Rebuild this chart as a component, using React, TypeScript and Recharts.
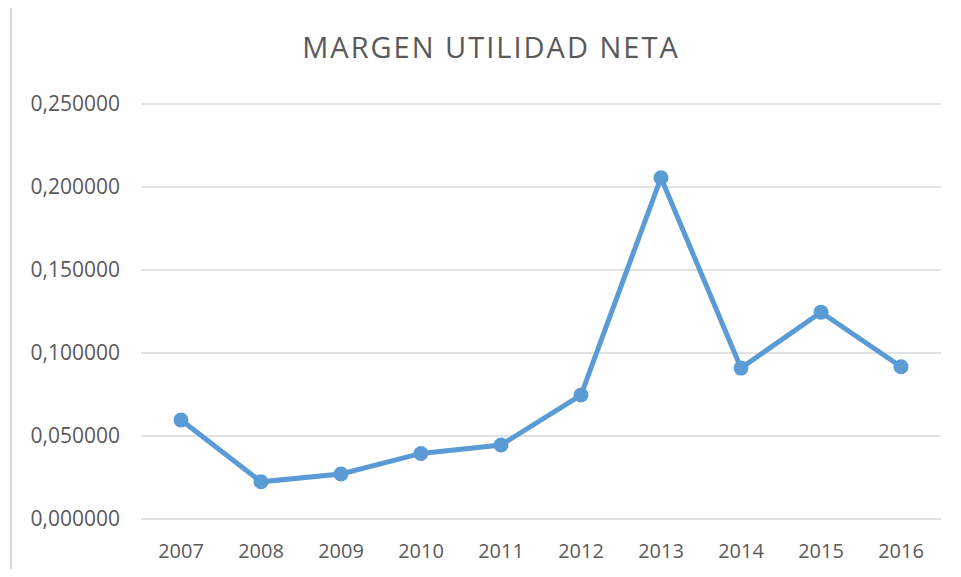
import React from "react";
import { LineChart, Line, XAxis, YAxis, CartesianGrid } from "recharts";

const years = ["2007", "2008", "2009", "2010", "2011", "2012", "2013", "2014", "2015", "2016"];
const margenValues = [0.0596, 0.0224, 0.0271, 0.0395, 0.0446, 0.0747, 0.2056, 0.0909, 0.1246, 0.0917];
const yTicks = [0, 0.05, 0.1, 0.15, 0.2, 0.25];
const title = "MARGEN UTILIDAD NETA";

const data = years.map((year, i) => ({ year, margen: margenValues[i] }));

const fmt = (v: number) => v.toFixed(6).replace(".", ",");

const FONT = "'Open Sans', sans-serif";

export default function App() {
  return (
    <div style={{ margin: -8, width: 961, height: 577, position: "relative", overflow: "hidden", background: "#fff" }}>
      <div
        style={{
          position: "absolute",
          left: 10,
          top: 6,
          width: 1200,
          height: 1200,
          borderLeft: "2px solid #d9d9d9",
          borderTop: "1px solid #d9d9d9",
        }}
      />
      <div
        style={{
          position: "absolute",
          left: 0,
          width: 982,
          top: 29,
          textAlign: "center",
          fontFamily: FONT,
          fontSize: 29,
          fontWeight: 400,
          color: "#595959",
          lineHeight: "36px",
          letterSpacing: 2,
        }}
      >
        {title}
      </div>
      <div style={{ position: "absolute", left: 0, top: 0 }}>
        <LineChart width={961} height={577} data={data} margin={{ top: 104, right: 20, bottom: 0, left: 21 }}>
          <CartesianGrid vertical={false} stroke="#d9d9d9" strokeWidth={1.5} />
          <XAxis
            dataKey="year"
            axisLine={false}
            tickLine={false}
            tickMargin={19}
            height={58}
            padding={{ left: 40, right: 40 }}
            tick={{ fill: "#595959", fontSize: 20, fontFamily: FONT }}
          />
          <YAxis
            domain={[0, 0.25]}
            ticks={yTicks}
            tickFormatter={fmt}
            axisLine={false}
            tickLine={false}
            tickMargin={15}
            width={120}
            tick={{ fill: "#595959", fontSize: 21, fontFamily: FONT }}
          />
          <Line
            type="linear"
            dataKey="margen"
            stroke="#5b9bd5"
            strokeWidth={5}
            dot={{ r: 7.5, fill: "#5b9bd5", stroke: "none" }}
            isAnimationActive={false}
          />
        </LineChart>
      </div>
    </div>
  );
}
